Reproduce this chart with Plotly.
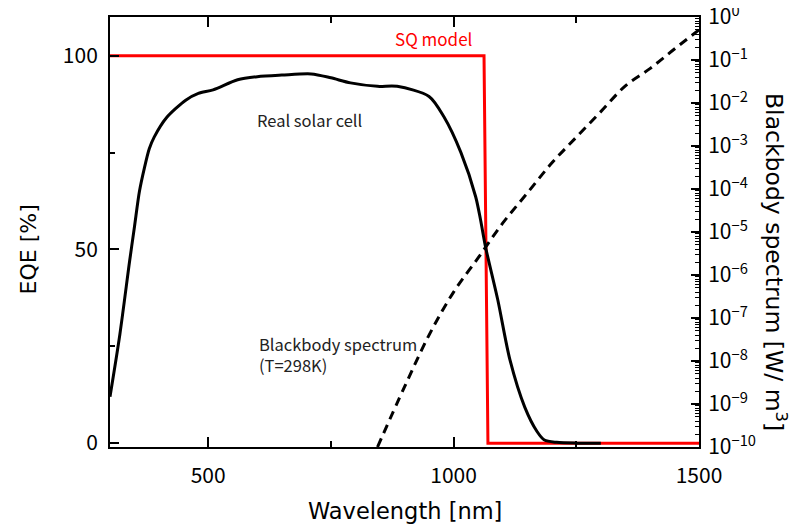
import plotly.graph_objects as go

# ---- data ----
eqe_wl = [300, 320, 340, 350, 360, 370, 380, 390, 415, 455, 480, 510, 560, 600, 650,
          710, 750, 790, 845, 885, 950, 980, 1015, 1045, 1055, 1065, 1090, 1115, 1145,
          1170, 1185, 1210, 1250, 1300]
eqe_val = [12, 28, 47, 56, 65, 71, 76, 79, 84, 88.6, 90.3, 91.2, 93.8, 94.6, 95.0,
           95.3, 94.3, 93.0, 92.1, 92.1, 89.5, 84.3, 75.0, 63.6, 57.6, 50.7, 37.0, 21.4, 9.3,
           3.0, 0.8, 0.2, 0.0, 0.0]

sq_wl = [300, 1062, 1070, 1500]
sq_val = [100, 100, 0, 0]

bb_wl = [845, 900, 950, 1000, 1050, 1100, 1150, 1200, 1250, 1300, 1350, 1400, 1450, 1500]
bb_val = [1e-10, 2.5e-9, 4.0e-8, 4.0e-7, 2.5e-6, 1.6e-5, 8.0e-5, 4.0e-4, 1.6e-3,
          6.3e-3, 2.5e-2, 6.3e-2, 1.8e-1, 5.0e-1]

x_ticks = [500, 1000, 1500]
x_minor = [750, 1250]
eqe_ticks = [0, 50, 100]
eqe_minor = [25, 75]
log_exps = list(range(-10, 1))
log_tickvals = [10.0 ** e for e in log_exps]
log_ticktext = ["10<sup>%s</sup>" % (str(e).replace("-", "\u2212")) for e in log_exps]
log_minor = [k * 10.0 ** e for e in range(-10, 0) for k in range(2, 10)]

FONT = "Noto Sans CJK JP"
TITLE_FONT = "DejaVu Sans"

fig = go.Figure()
fig.add_trace(go.Scatter(x=sq_wl, y=sq_val, mode="lines",
                         line=dict(color="#ff0000", width=3), yaxis="y", showlegend=False))
fig.add_trace(go.Scatter(x=bb_wl, y=bb_val, mode="lines",
                         line=dict(color="black", width=3, dash="9px,6px", shape="spline"),
                         yaxis="y2", showlegend=False))
fig.add_trace(go.Scatter(x=eqe_wl, y=eqe_val, mode="lines",
                         line=dict(color="black", width=3, shape="spline", smoothing=0.8),
                         yaxis="y", showlegend=False))

fig.update_layout(
    width=806, height=529,
    # page body has an 8px margin; compensate so the plot box lands at 110..699 x 17..447
    margin=dict(l=102, r=115, t=9, b=90, autoexpand=False),
    paper_bgcolor="white", plot_bgcolor="white",
    font=dict(family=FONT, color="black", size=18),
    xaxis=dict(range=[300, 1500], tickvals=x_ticks, ticks="inside", ticklen=10,
               tickwidth=1.5, tickcolor="black", showline=True, linecolor="black",
               linewidth=2, mirror="ticks", showgrid=False, zeroline=False,
               automargin=False,
               tickfont=dict(size=21, family=FONT), ticklabelstandoff=9,
               ticklabeloverflow="allow",
               minor=dict(tickvals=x_minor, ticks="inside", ticklen=6,
                          tickwidth=1.5, tickcolor="black", showgrid=False)),
    yaxis=dict(range=[-1, 110], tickvals=eqe_ticks, ticks="inside", ticklen=9,
               tickwidth=1.5, tickcolor="black", showline=True, linecolor="black",
               linewidth=2, showgrid=False, zeroline=False, automargin=False,
               tickfont=dict(size=21, family=FONT), ticklabelstandoff=6,
               minor=dict(tickvals=eqe_minor, ticks="inside", ticklen=5,
                          tickwidth=1.5, tickcolor="black", showgrid=False)),
    yaxis2=dict(type="log", range=[-10, 0], overlaying="y", side="right",
                tickvals=log_tickvals, ticktext=log_ticktext, ticks="inside", ticklen=8,
                tickwidth=1.5, tickcolor="black", showline=True, linecolor="black",
                linewidth=2, showgrid=False, zeroline=False, automargin=False,
                tickfont=dict(size=21, family=FONT), ticklabelstandoff=3,
                ticklabeloverflow="allow",
                minor=dict(tickmode="array", tickvals=log_minor, ticks="inside", ticklen=4,
                           tickwidth=1, tickcolor="black", showgrid=False)),
    annotations=[
        dict(text="SQ model", x=960, y=100, xref="x", yref="y", yanchor="bottom",
             yshift=3, showarrow=False, font=dict(color="#ff0000", size=17, family=FONT)),
        dict(text="Real solar cell", x=706, y=83.5, xref="x", yref="y", showarrow=False,
             font=dict(color="#222222", size=16.5, family=FONT)),
        dict(text="Blackbody spectrum<br>(T=298K)", x=600, y=23, xref="x", yref="y",
             xanchor="left", align="left", showarrow=False,
             font=dict(color="#222222", size=16.5, family=FONT)),
        dict(text="Wavelength [nm]", x=0.5, xref="paper", y=0, yref="paper",
             yanchor="middle", yshift=-64, showarrow=False,
             font=dict(size=22.5, family=TITLE_FONT)),
        dict(text="EQE [%]", x=0, xref="paper", xanchor="center", xshift=-82,
             y=50, yref="y", yanchor="middle", textangle=-90, showarrow=False,
             font=dict(size=22, family=TITLE_FONT)),
        dict(text="Blackbody spectrum [W/ m<sup>3</sup>]", x=1.0, xref="paper",
             xanchor="center", xshift=77, y=0.5, yref="paper", yanchor="middle",
             yshift=-30, textangle=90, showarrow=False,
             font=dict(size=23.5, family=TITLE_FONT)),
    ],
)

fig.write_html("out.html")
